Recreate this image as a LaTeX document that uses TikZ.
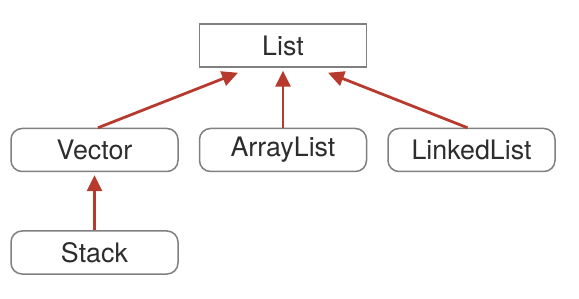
\documentclass[tikz,border=0pt]{standalone}
\usepackage{fontspec}
\setmainfont{TeX Gyre Heros}
\usetikzlibrary{arrows.meta,positioning}

\definecolor{boxgray}{RGB}{128,128,128}
\definecolor{textgray}{RGB}{45,45,45}
\definecolor{arrowred}{RGB}{183,58,46}

\begin{document}
\begin{tikzpicture}[
  every node/.style={
    font=\fontsize{13.4}{15}\selectfont,
    text=textgray
  },
  iface/.style={
    draw=boxgray,
    line width=0.75pt,
    rectangle,
    fill=white,
    inner sep=0pt,
    minimum width=83.5pt,
    minimum height=21.5pt
  },
  cls/.style={
    iface,
    rounded corners=5.5pt
  },
  arrow/.style={
    -{Triangle[length=8pt,width=7.5pt]},
    draw=arrowred,
    line width=1.4pt
  }
]
  \useasboundingbox (0,0) rectangle (289.5pt,-149.5pt);

  \node[iface] (list) at (141.5pt,-22.75pt) {List};
  \node[cls, below=30pt of list] (arraylist) {ArrayList};
  \node[cls, left=10pt of arraylist] (vector) {Vector};
  \node[cls, right=10pt of arraylist] (linkedlist) {LinkedList};
  \node[cls, below=29pt of vector] (stack) {Stack};

  % arrow ends just under the parent box
  \coordinate (toleft) at ([xshift=-22.5pt,yshift=-2.5pt]list.south);
  \coordinate (tomid) at ([yshift=-1.5pt]list.south);
  \coordinate (toright) at ([xshift=22.5pt,yshift=-2.5pt]list.south);
  \coordinate (tovector) at ([yshift=-1.5pt]vector.south);

  \draw[arrow] ([xshift=1.75pt]vector.north) -- (toleft);
  \draw[arrow] (arraylist.north) -- (tomid);
  \draw[arrow] ([xshift=-2pt]linkedlist.north) -- (toright);
  \draw[arrow] (stack.north) -- (tovector);
\end{tikzpicture}
\end{document}
